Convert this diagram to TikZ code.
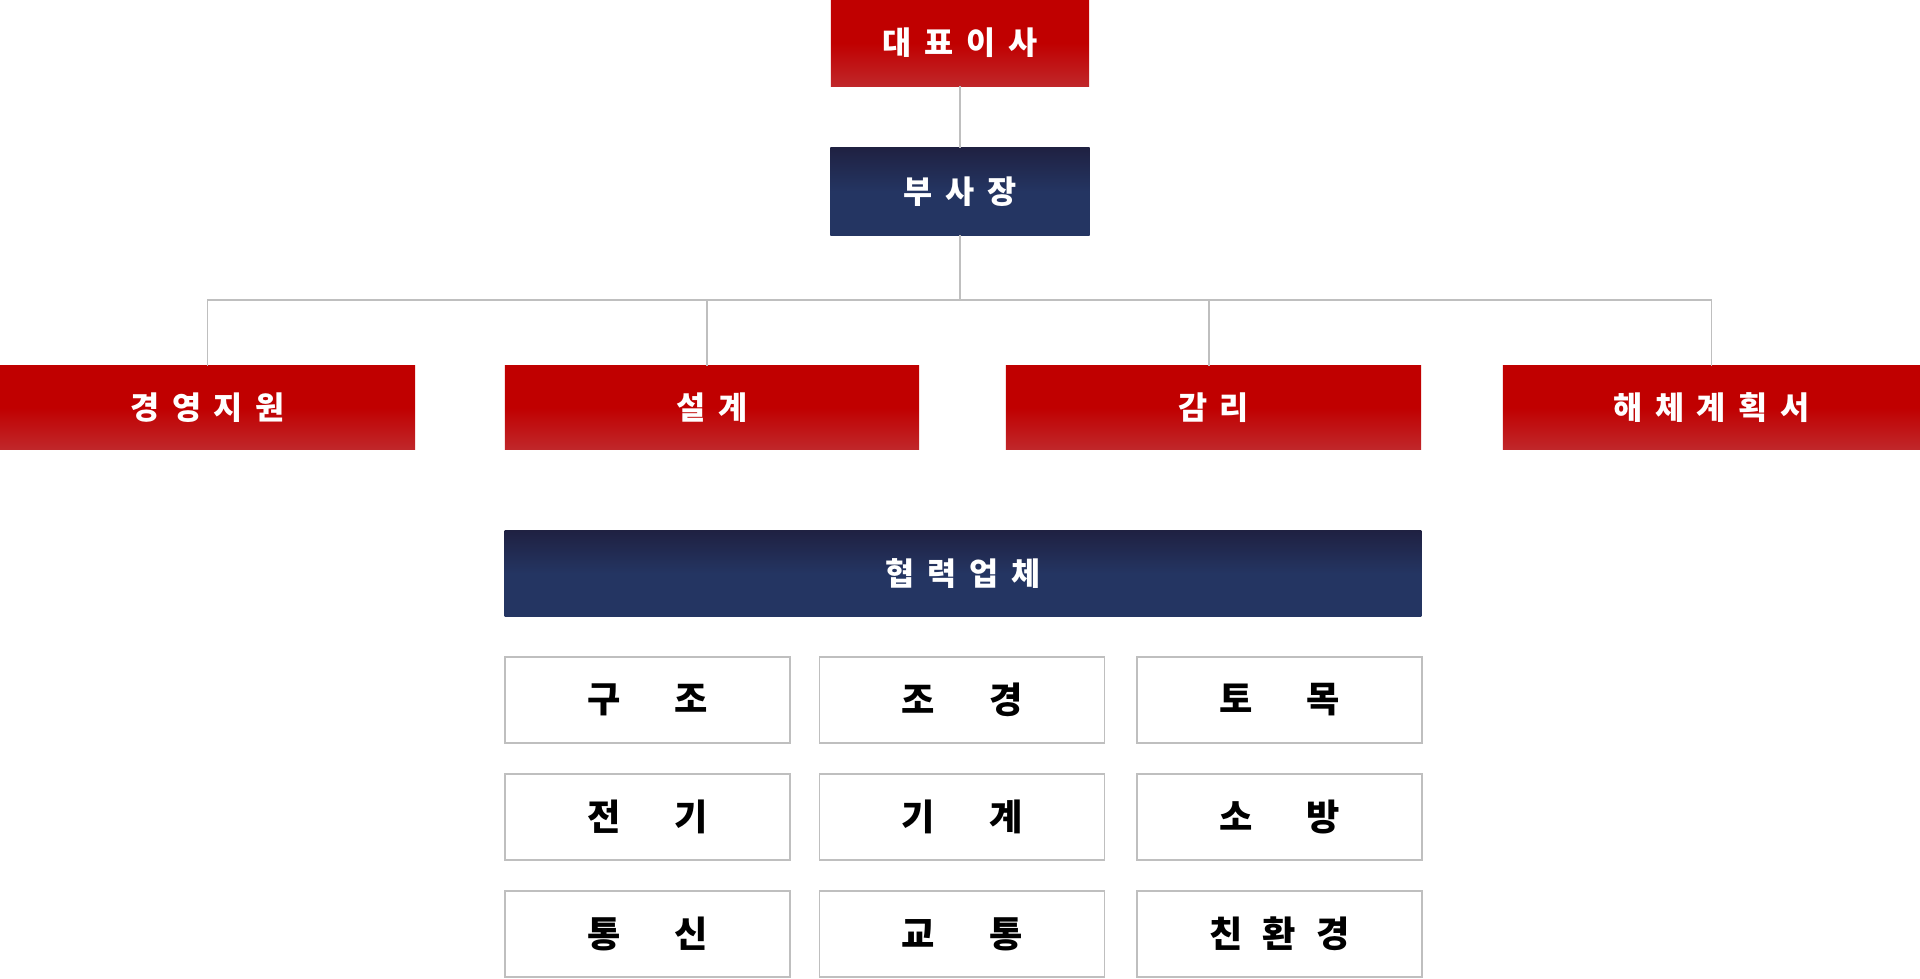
\documentclass[tikz,border=0pt]{standalone}
\usepackage{fontspec}
\newfontfamily\kr{Noto Sans CJK KR}
\definecolor{redtop}{HTML}{C00000}
\definecolor{redbot}{HTML}{C0272A}
\definecolor{navytop}{HTML}{1F2142}
\definecolor{navybot}{HTML}{243562}
\definecolor{linegray}{HTML}{BFBFBF}
\newcommand\gp{\hspace{.4em}}
\newcommand\wgp{\hspace{1.5em}}
\tikzset{
  redbox/.style={top color=redtop, bottom color=redbot, middle color=redtop, text=white,
    font=\kr\bfseries\fontsize{9}{11}\selectfont, inner sep=0pt, outer sep=0pt},
  navybox/.style={top color=navytop, bottom color=navybot, middle color=navybot, text=white,
    font=\kr\bfseries\fontsize{9}{11}\selectfont, inner sep=0pt, outer sep=0pt},
  unitbox/.style={draw=linegray, line width=.45pt, fill=white, text=black,
    font=\kr\bfseries\fontsize{10.3}{12}\selectfont, minimum width=2.85cm, minimum height=.86cm,
    inner sep=0pt},
  link/.style={draw=linegray, line width=.45pt}
}
\begin{document}
\begin{tikzpicture}[x=.01cm,y=-.01cm]
\useasboundingbox (0,0) rectangle (1920,979);

% top
\node[redbox, minimum width=2.58cm, minimum height=.86cm] (ceo) at (960,43) {대\gp 표\gp 이\gp 사};
\node[navybox, minimum width=2.59cm, minimum height=.87cm] (vp) at (960,191.5) {부\gp 사\gp 장};

% departments
\foreach \name/\x/\w/\txt in {mgmt/207.5/4.15/경\gp 영\gp 지\gp 원, design/712/4.14/설\gp 계,
    superv/1213.5/4.15/감\gp 리, demol/1711.5/4.17/해\gp 체\gp 계\gp 획\gp 서}
{
    \node[redbox, minimum width=\w cm, minimum height=.83cm] (\name) at (\x,407.5) {\txt};
}

\coordinate (bus) at (960,300);
\draw[link] (ceo) -- (vp);
\draw[link] (vp) -- (bus);
\draw[link] (bus) -| (mgmt);
\draw[link] (bus) -| ([xshift=-.05cm]design.north);
\draw[link] (bus) -| ([xshift=-.045cm]superv.north);
\draw[link] (bus) -| (demol);

% partners
\node[navybox, minimum width=9.16cm, minimum height=.85cm] (partner) at (963,573.5) {협\gp 력\gp 업\gp 체};

\foreach \name/\x/\y/\txt in {struct/647.5/700/구\wgp 조, landsc/962/700/조\wgp 경, civil/1279.5/700/토\wgp 목,
    elec/647.5/817/전\wgp 기, mech/962/817/기\wgp 계, fire/1279.5/817/소\wgp 방,
    comm/647.5/934/통\wgp 신, traff/962/934/교\wgp 통, eco/1279.5/934/친\hspace{.55em}환\hspace{.55em}경}
{
    \node[unitbox] (\name) at (\x,\y) {\txt};
}
\end{tikzpicture}
\end{document}
